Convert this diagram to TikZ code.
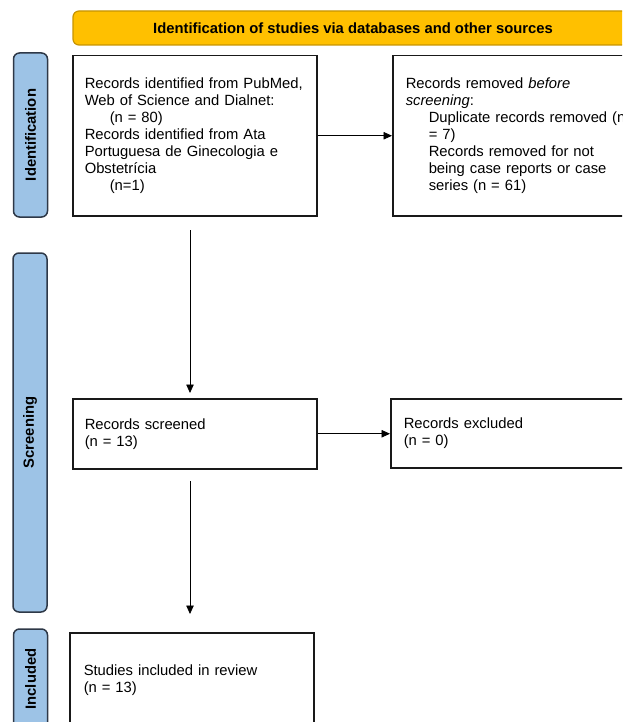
\documentclass[tikz,border=0pt]{standalone}
\usepackage{fontspec}
\setmainfont{Liberation Sans}
\usetikzlibrary{arrows.meta,calc}
\definecolor{BannerClr}{rgb}{1,0.753,0}
\definecolor{BannerLine}{rgb}{0.78,0.58,0}
\definecolor{PhaseClr}{rgb}{0.616,0.765,0.902}
\definecolor{PhaseLine}{rgb}{0.18,0.22,0.28}
\definecolor{BoxLine}{rgb}{0.1,0.1,0.1}

\begin{document}
\begin{tikzpicture}[x=1pt,y=-1pt,
  txt/.style={font=\fontsize{14.8}{17}\selectfont},
  banner/.style={draw=BannerLine,line width=1.2pt,fill=BannerClr,rounded corners=6pt,
    minimum width=560pt,minimum height=34pt,font=\bfseries\fontsize{14.8}{17}\selectfont},
  phase/.style={draw=PhaseLine,line width=1.5pt,fill=PhaseClr,rounded corners=6pt,
    rotate=90,minimum height=34pt,font=\bfseries\fontsize{14.8}{17}\selectfont},
  box/.style={draw=BoxLine,line width=1.5pt,anchor=north west,align=left,inner xsep=12pt,txt},
  flow/.style={line width=0.8pt,-{Triangle[length=8.5pt,width=7.5pt]}}]

\useasboundingbox (0,0) rectangle (622,722);
\clip (0,0) rectangle (622,722);

\node[banner] (head) at (353,28) {Identification of studies via databases and other sources};

\node[phase,minimum width=164pt] (idph) at (30.5,135) {Identification};
\node[phase,minimum width=359pt] (scph) at (30,432.5) {Screening};
\node[phase,minimum width=100pt] (inph) at (30.5,679) {Included};

\node[box,text width=220pt,minimum height=160pt] (idbox) at (72,55)
  {Records identified from PubMed,\\
   Web of Science and Dialnet:\\
   \hspace*{25pt}(n = 80)\\
   Records identified from Ata\\
   Portuguesa de Ginecologia e\\
   Obstetrícia\\
   \hspace*{25pt}(n=1)};
\node[box,inner xsep=13pt,text width=240pt,minimum height=160pt] (rembox) at (392,55)
  {Records removed \textit{before}\\
   \textit{screening}:\\
   \hspace*{23pt}Duplicate records removed (n\\
   \hspace*{23pt}= 7)\\
   \hspace*{23pt}Records removed for not\\
   \hspace*{23pt}being case reports or case\\
   \hspace*{23pt}series (n = 61)};

\node[box,text width=220pt,minimum height=70pt] (scrbox) at (72,398)
  {Records screened\\(n = 13)};
\node[box,inner xsep=13pt,text width=240pt,minimum height=69pt] (excbox) at (390,398)
  {Records excluded\\(n = 0)};

\node[box,inner xsep=14pt,text width=216pt,minimum height=94pt] (incbox) at (69,632)
  {Studies included in review\\(n = 13)};

\coordinate (a1) at (190,230);
\coordinate (a2) at (190,481);

\draw[flow] (idbox.east) -- (idbox.east -| rembox.west);
\draw[flow,shorten >=5pt] (a1) -- (a1 |- scrbox.north);
\draw[flow] (scrbox.east) -- (scrbox.east -| excbox.west);
\draw[flow,shorten >=18pt] (a2) -- (a2 |- incbox.north);

\end{tikzpicture}
\end{document}
